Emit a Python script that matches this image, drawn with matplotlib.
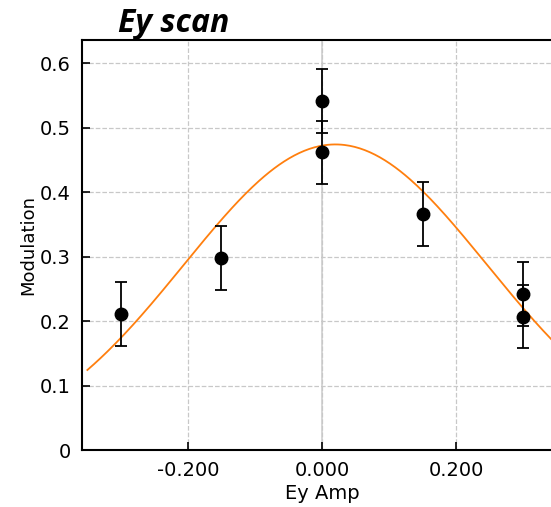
import numpy as np
import matplotlib
matplotlib.use('Agg')
import matplotlib.pyplot as plt
from matplotlib.ticker import FuncFormatter

# measured points
ey_amp = [-0.30, -0.15, 0.00, 0.00, 0.15, 0.30, 0.30]
modulation = [0.211, 0.298, 0.541, 0.462, 0.366, 0.242, 0.207]
mod_err = [0.050, 0.050, 0.050, 0.049, 0.049, 0.050, 0.049]

# gaussian fit parameters
fit_amp = 0.474
fit_center = 0.02
fit_sigma = 0.226
fit_range = (-0.35, 0.40)

x_ticks = [-0.2, 0.0, 0.2]
y_ticks = [0, 0.1, 0.2, 0.3, 0.4, 0.5, 0.6]

plt.rc('font', size=14)

fig = plt.figure(figsize=(5.51, 5.07), dpi=100)
ax = fig.add_axes([82/551, 1 - 450/507, 480/551, 410/507])

ax.grid(True, linestyle='--', color='#c8c8c8', linewidth=0.9)
ax.axvline(0, color='#d0d0d0', linewidth=1.2, zorder=0)

xf = np.linspace(fit_range[0], fit_range[1], 300)
yf = fit_amp * np.exp(-(xf - fit_center) ** 2 / (2 * fit_sigma ** 2))
ax.plot(xf, yf, color='#ff7f0e', linewidth=1.3, zorder=2)

ax.errorbar(ey_amp, modulation, yerr=mod_err, fmt='o', color='black',
            markersize=9, capsize=4.5, elinewidth=1.3, capthick=1.3, zorder=3)

ax.set_xlim(-0.358, 0.358)
ax.set_ylim(0, 0.636)
ax.set_xticks(x_ticks)
ax.set_yticks(y_ticks)
ax.xaxis.set_major_formatter(FuncFormatter(lambda v, p: '%.3f' % v))
ax.yaxis.set_major_formatter(FuncFormatter(lambda v, p: '0' if abs(v) < 1e-9 else '%.1f' % v))
ax.tick_params(direction='in', length=6, width=1.2, labelsize=14, pad=8)

for s in ax.spines.values():
    s.set_linewidth(1.5)

ax.set_xlabel('Ey Amp', fontsize=14, labelpad=3)
ax.set_ylabel('Modulation', fontsize=13, labelpad=2)

fig.text(118/551, 1 - 32/507, 'Ey scan', fontsize=23, fontweight='bold',
         fontstyle='italic', family='Open Sans', ha='left', va='baseline')

fig.savefig('out.png', dpi=100)
